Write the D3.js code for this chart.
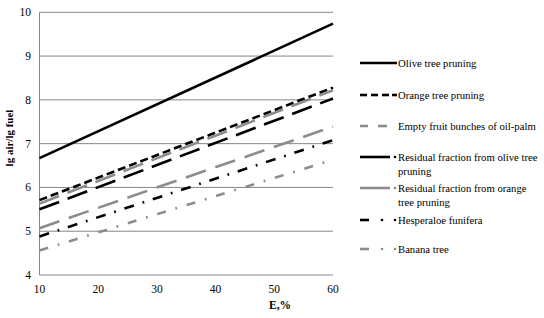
<!DOCTYPE html>
<html><head><meta charset="utf-8">
<script src="https://cdn.jsdelivr.net/npm/d3@7"></script>
<style>body{margin:0;background:#fff}</style>
</head><body><svg id="c" width="544" height="318"></svg>
<script>
const xValues = [10, 60];
const seriesNames = ["Olive tree pruning","Orange tree pruning","Empty fruit bunches of oil-palm","Residual fraction from olive tree pruning","Residual fraction from orange tree pruning","Hesperaloe funifera","Banana tree"];
const olive = [6.67, 9.74];
const orange = [5.71, 8.28];
const emptyFruit = [5.07, 7.39];
const residualOlive = [5.50, 8.03];
const residualOrange = [5.63, 8.22];
const hesperaloe = [4.88, 7.08];
const banana = [4.56, 6.63];
const yTicks = [4,5,6,7,8,9,10];
const xTicks = [10,20,30,40,50,60];

const FONT = "Liberation Serif";
const GRAY = "#8c8c8c";
const styles = [
  {c:"#000", d:null},
  {c:"#000", d:"8,4"},
  {c:GRAY, d:"21,10"},
  {c:"#000", d:"21,9"},
  {c:GRAY, d:"21,9"},
  {c:"#000", d:"10,9,1.8,9"},
  {c:GRAY, d:"9,10,1.8,10"}
];
const allSeries = [olive, orange, emptyFruit, residualOrange, residualOlive, hesperaloe, banana];

const svg = d3.select("#c");
const x = d3.scaleLinear().domain([10,60]).range([39.5,333]);
const y = d3.scaleLinear().domain([4,10]).range([275,12.3]);

svg.append("g").selectAll("line").data(yTicks).join("line")
  .attr("x1",39.5).attr("x2",333).attr("y1",d=>y(d)).attr("y2",d=>y(d))
  .attr("stroke","#868686").attr("stroke-width",1);
svg.append("line").attr("x1",39.5).attr("x2",39.5).attr("y1",y(10)).attr("y2",y(4)).attr("stroke","#868686");

svg.append("g").selectAll("text").data(yTicks).join("text")
  .attr("x",31).attr("y",d=>y(d)+4).attr("text-anchor","end").style("font-family",FONT).style("font-size","11.5px").text(d=>d);
svg.append("g").selectAll("text").data(xTicks).join("text")
  .attr("x",d=>x(d)).attr("y",293).attr("text-anchor","middle").style("font-family",FONT).style("font-size","11.5px").text(d=>d);
svg.append("text").attr("x",280).attr("y",309).attr("text-anchor","middle").style("font-family",FONT).style("font-size","11.5px").style("font-weight","bold").text("E,%");
svg.append("text").attr("transform","translate(13,138) rotate(-90)").attr("text-anchor","middle").style("font-family",FONT).style("font-size","11px").style("font-weight","bold").text("lg air/lg fuel");

const line = d3.line().x((d,i)=>x(xValues[i])).y(d=>y(d));
const seriesStyles = [styles[0],styles[1],styles[2],styles[4],styles[3],styles[5],styles[6]];
allSeries.forEach((s,i)=>{
  const st = seriesStyles[i];
  svg.append("path").datum(s).attr("d",line).attr("fill","none")
    .attr("stroke",st.c).attr("stroke-width",2.6).attr("stroke-dasharray",st.d);
});

const legRows = [
  {y:63, lines:["Olive tree pruning"], parts:[["line",0,37]]},
  {y:95, lines:["Orange tree pruning"], parts:[["line",0,7],["line",11,18],["line",22,29],["line",32,37]]},
  {y:126, lines:["Empty fruit bunches of oil-palm"], parts:[["line",0,8],["line",18,27]]},
  {y:157, lines:["Residual fraction from olive tree","pruning"], parts:[["line",0,30],["dot",35]]},
  {y:188, lines:["Residual fraction from orange","tree pruning"], parts:[["line",0,30],["dot",35]]},
  {y:220, lines:["Hesperaloe funifera"], parts:[["line",0,9],["dot",22],["dot",35]]},
  {y:249, lines:["Banana tree"], parts:[["line",0,9],["dot",22],["dot",35]]}
];
legRows.forEach((r,i)=>{
  const st = styles[i];
  const g = svg.append("g").attr("transform",`translate(360,${r.y})`);
  r.parts.forEach(p=>{
    if (p[0]==="line") g.append("line").attr("x1",p[1]).attr("x2",p[2]).attr("y1",0).attr("y2",0).attr("stroke",st.c).attr("stroke-width",2.6);
    else g.append("circle").attr("cx",p[1]).attr("cy",0).attr("r",1.3).attr("fill",st.c);
  });
  r.lines.forEach((t,j)=>{
    g.append("text").attr("x",38).attr("y",4+j*14).style("font-family",FONT).style("font-size","10.7px").text(t);
  });
});
</script></body></html>
